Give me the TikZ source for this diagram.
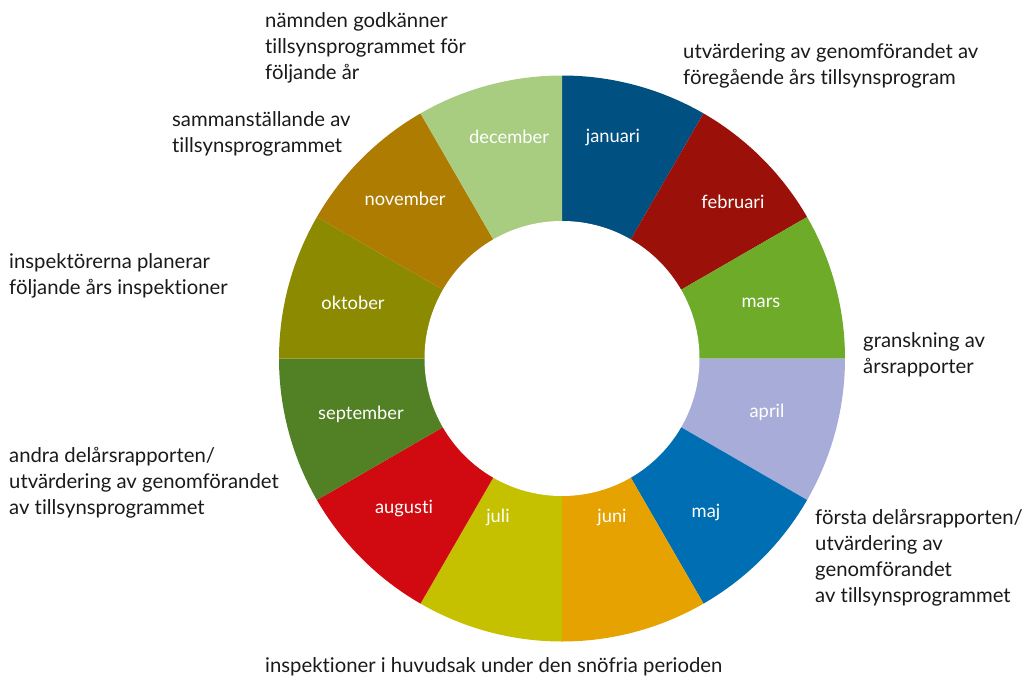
\documentclass[tikz,border=0pt]{standalone}
\usepackage{fontspec}
\setmainfont{Lato}[Ligatures={NoCommon}]
\usetikzlibrary{calc}
\definecolor{cjan}{RGB}{0,81,130}
\definecolor{cfeb}{RGB}{155,16,8}
\definecolor{cmar}{RGB}{109,171,41}
\definecolor{capr}{RGB}{167,173,216}
\definecolor{cmaj}{RGB}{0,110,178}
\definecolor{cjun}{RGB}{230,162,0}
\definecolor{cjul}{RGB}{197,192,0}
\definecolor{caug}{RGB}{208,10,16}
\definecolor{csep}{RGB}{82,128,36}
\definecolor{cokt}{RGB}{140,138,0}
\definecolor{cnov}{RGB}{173,124,0}
\definecolor{cdec}{RGB}{168,204,128}
\definecolor{txt}{RGB}{26,26,26}
\tikzset{
  month/.style={text=white, font=\fontsize{18.3}{21}\selectfont, inner sep=0pt, anchor=center},
  note/.style={text=txt, font=\fontsize{20.3}{26}\selectfont, inner sep=0pt, anchor=base west, align=left},
}
\begin{document}
\begin{tikzpicture}[x=1pt,y=-1pt]
\useasboundingbox (0,0) rectangle (1029,678);
\coordinate (c) at (562,358.5);
\def\Ro{283}
\def\Ri{137.5}
\foreach \col [count=\i from 0] in {cjan,cfeb,cmar,capr,cmaj,cjun,cjul,caug,csep,cokt,cnov,cdec}{
  \pgfmathsetmacro{\aa}{-90+30*\i}
  \pgfmathsetmacro{\ab}{-60+30*\i}
  \fill[\col] (c) -- ($(c)+(\aa:\Ro)$) arc[start angle=\aa, end angle=\ab, radius=\Ro] -- cycle;
}
\fill[white] (c) circle[radius=\Ri];
% month labels
\node[month] (jan) at (613,137) {januari};
\node[month] (feb) at (733,202) {februari};
\node[month] (mar) at (761,303) {mars};
\node[month] (apr) at (767,412) {april};
\node[month] (maj) at (706,512) {maj};
\node[month] (jun) at (612,517) {juni};
\node[month] (jul) at (498,517) {juli};
\node[month] (aug) at (404,508) {augusti};
\node[month] (sep) at (361,414) {september};
\node[month] (okt) at (353,303) {oktober};
\node[month] (nov) at (405,199) {november};
\node[month] (dec) at (509,137) {december};
% annotations (anchor = baseline of last line)
\node[note] (n1) at (265,79) {nämnden godkänner\\tillsynsprogrammet för\\följande år};
\node[note] (n2) at (172,152) {sammanställande av\\tillsynsprogrammet};
\node[note] (n3) at (683,84) {utvärdering av genomförandet av\\föregående års tillsynsprogram};
\node[note] (n4) at (863,373) {granskning av\\årsrapporter};
\node[note] (n5) at (815,602) {första delårsrapporten/\\utvärdering av\\genomförandet\\av tillsynsprogrammet};
\node[note] (n6) at (9,294) {inspektörerna planerar\\följande års inspektioner};
\node[note] (n7) at (9,514) {andra delårsrapporten/\\utvärdering av genomförandet\\av tillsynsprogrammet};
\node[note] (n8) at (265,672) {inspektioner i huvudsak under den snöfria perioden};
\end{tikzpicture}
\end{document}
